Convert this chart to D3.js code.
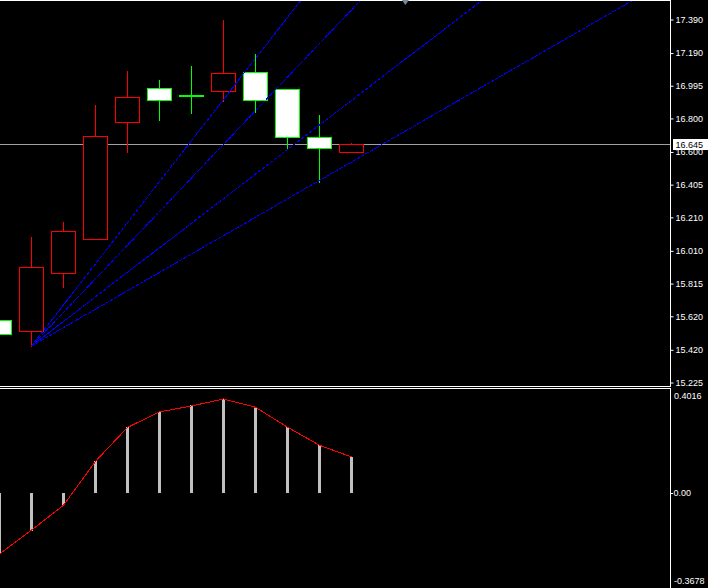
<!DOCTYPE html>
<html>
<head>
<meta charset="utf-8">
<script src="https://cdn.jsdelivr.net/npm/d3@7"></script>
<style>
html,body{margin:0;padding:0;background:#000;overflow:hidden;}
svg{display:block;}
</style>
</head>
<body>
<svg id="chart" width="708" height="588"></svg>
<script>
// ---------- data ----------
const barIndex = [0,1,2,3,4,5,6,7,8,9,10,11];
const opens  = [15.598, 15.532, 15.878, 16.081, 16.779, 16.981, 16.934, 16.964, 17.077, 16.976, 16.689, 16.600];
const highs  = [15.640, 16.093, 16.182, 16.880, 17.083, 17.029, 17.113, 17.387, 17.184, 16.976, 16.820, 16.651];
const lows   = [15.480, 15.443, 15.795, 16.081, 16.600, 16.791, 16.832, 16.904, 16.838, 16.618, 16.421, 16.600];
const closes = [15.517, 15.914, 16.129, 16.695, 16.928, 16.910, 16.934, 17.071, 16.910, 16.689, 16.624, 16.645];

const macdMain   = [-0.234, -0.146, -0.047, 0.123, 0.255, 0.314, 0.338, 0.364, 0.332, 0.255, 0.185, 0.139];
const macdSignal = [-0.236, -0.144, -0.048, 0.122, 0.253, 0.313, 0.336, 0.363, 0.331, 0.254, 0.184, 0.139];

const priceTickLabels = ["17.390","17.190","16.995","16.800","16.600","16.405","16.210","16.010","15.815","15.620","15.420","15.225"];
const macdTickLabels  = ["0.4016","0.00","-0.3678"];
const currentPrice = 16.645;

// Gann fan: origin (bar, price) and slopes in price per bar
const fanOrigin = {bar: 1, price: 15.443};
const fanSlopes = [0.2449, 0.2004, 0.1464, 0.1097];

// ---------- layout ----------
const W = 708, H = 588;
const plotRight = 670;
const mainTop = 0, mainBottom = 386;
const subTop = 388, subBottom = 588;

const svg = d3.select("#chart");
svg.append("rect").attr("width", W).attr("height", H).attr("fill", "#000");

const x = d3.scaleLinear().domain([0, 21]).range([-1, 671]);
const yMain = d3.scaleLinear().domain([15.225, 17.390]).range([382.5, 19.5]);
const ySub = d3.scaleLinear().domain([-0.3678, 0.4016]).range([subBottom, subTop + 1]);

const defs = svg.append("defs");
defs.append("clipPath").attr("id", "clipMain")
  .append("rect").attr("x", 0).attr("y", mainTop).attr("width", plotRight).attr("height", mainBottom - mainTop);
defs.append("clipPath").attr("id", "clipSub")
  .append("rect").attr("x", 0).attr("y", subTop + 1).attr("width", plotRight).attr("height", subBottom - subTop);

const gMain = svg.append("g").attr("clip-path", "url(#clipMain)");
const gSub = svg.append("g").attr("clip-path", "url(#clipSub)");

// current price line
gMain.append("line")
  .attr("x1", 0).attr("x2", plotRight)
  .attr("y1", Math.round(yMain(currentPrice)) + 0.5).attr("y2", Math.round(yMain(currentPrice)) + 0.5)
  .attr("stroke", "#a0a0a8").attr("stroke-width", 1);

// candles
const candles = barIndex.map(i => ({i, o: opens[i], h: highs[i], l: lows[i], c: closes[i]}));
const bullColor = "#ff0000", bearColor = "#00ff00";
const cg = gMain.append("g").attr("shape-rendering", "crispEdges").selectAll("g").data(candles).join("g");
cg.append("line")
  .attr("x1", d => Math.round(x(d.i)) + 0.5).attr("x2", d => Math.round(x(d.i)) + 0.5)
  .attr("y1", d => Math.round(yMain(d.h))).attr("y2", d => Math.round(yMain(d.l)) + 1)
  .attr("stroke", d => d.c > d.o ? bullColor : bearColor).attr("stroke-width", 1);
cg.append("rect")
  .attr("x", d => Math.round(x(d.i)) - 11.5)
  .attr("width", 24)
  .attr("y", d => Math.round(yMain(Math.max(d.o, d.c))) + (d.o === d.c ? -0.5 : 0.5))
  .attr("height", d => d.o === d.c ? 1 : Math.round(yMain(Math.min(d.o, d.c))) - Math.round(yMain(Math.max(d.o, d.c))))
  .attr("fill", d => d.c > d.o ? "#000" : (d.o === d.c ? bearColor : "#fff"))
  .attr("stroke", d => d.c > d.o ? bullColor : bearColor).attr("stroke-width", 1);

// Gann fan lines
const endBar = 21;
gMain.append("g").attr("shape-rendering", "crispEdges").selectAll("line").data(fanSlopes).join("line")
  .attr("x1", x(fanOrigin.bar) + 0.5).attr("y1", yMain(fanOrigin.price))
  .attr("x2", x(endBar) + 0.5).attr("y2", s => yMain(fanOrigin.price + s * (endBar - fanOrigin.bar)))
  .attr("stroke", "#0000ff").attr("stroke-width", 1).attr("stroke-dasharray", "4,1");

// MACD histogram
gSub.append("g").attr("shape-rendering", "crispEdges").selectAll("rect").data(barIndex).join("rect")
  .attr("x", i => Math.round(x(i)) - 1).attr("width", 3)
  .attr("y", i => Math.min(ySub(0), ySub(macdMain[i])))
  .attr("height", i => Math.abs(ySub(macdMain[i]) - ySub(0)))
  .attr("fill", "#c0c0c0");

// MACD signal line
gSub.append("path")
  .datum(barIndex)
  .attr("d", d3.line().x(i => Math.round(x(i)) + 0.5).y(i => ySub(macdSignal[i])))
  .attr("fill", "none").attr("stroke", "#ff0000").attr("stroke-width", 1)
  .attr("shape-rendering", "crispEdges");

// frames
const frame = svg.append("g").attr("stroke", "#fff").attr("stroke-width", 1).attr("shape-rendering", "crispEdges");
frame.append("line").attr("x1", 0).attr("x2", plotRight + 1).attr("y1", 0.5).attr("y2", 0.5);
frame.append("line").attr("x1", 0).attr("x2", plotRight + 1).attr("y1", mainBottom + 0.5).attr("y2", mainBottom + 0.5);
frame.append("line").attr("x1", 0).attr("x2", plotRight + 1).attr("y1", subTop + 0.5).attr("y2", subTop + 0.5);
frame.append("line").attr("x1", plotRight + 0.5).attr("x2", plotRight + 0.5).attr("y1", 0).attr("y2", mainBottom + 1);
frame.append("line").attr("x1", plotRight + 0.5).attr("x2", plotRight + 0.5).attr("y1", subTop).attr("y2", subBottom);

// price axis
const priceTickVals = priceTickLabels.map(Number);
const axisMain = d3.axisRight(yMain)
  .tickValues(priceTickVals).tickSize(3).tickPadding(2)
  .tickFormat((d, i) => priceTickLabels[i]);
const gAxis = svg.append("g").attr("transform", `translate(${plotRight + 0.5},0)`).call(axisMain);
gAxis.select(".domain").remove();
gAxis.selectAll("line").attr("stroke", "#fff");
gAxis.selectAll("text").attr("fill", "#fff")
  .style("font-family", "'Liberation Sans', Arial, sans-serif").style("font-size", "9px");

// current price label
const cpY = Math.round(yMain(currentPrice)) + 0.5;
svg.append("rect").attr("x", 673).attr("y", cpY - 5.5).attr("width", 35).attr("height", 11).attr("fill", "#fff");
svg.append("text").attr("x", 675.5).attr("y", cpY).attr("dy", "0.34em")
  .attr("fill", "#000").style("font-family", "'Liberation Sans', Arial, sans-serif").style("font-size", "9px")
  .text(currentPrice.toFixed(3));

// MACD axis labels
const subLabelY = [subTop + 8, ySub(0), subBottom - 7];
svg.append("line").attr("x1", plotRight + 1).attr("x2", plotRight + 3)
  .attr("y1", Math.round(ySub(0)) + 0.5).attr("y2", Math.round(ySub(0)) + 0.5).attr("stroke", "#fff");
svg.append("g").selectAll("text").data(macdTickLabels).join("text")
  .attr("x", (d, i) => i === 1 ? 673.5 : 674)
  .attr("y", (d, i) => subLabelY[i]).attr("dy", "0.34em")
  .attr("fill", "#fff").style("font-family", "'Liberation Sans', Arial, sans-serif").style("font-size", "9px")
  .text(d => d);

// chart shift marker
const shiftX = x(12.7);
svg.append("path")
  .attr("d", `M${shiftX - 3.5},0 L${shiftX + 3.5},0 L${shiftX},5 Z`)
  .attr("fill", "#778899");
</script>
</body>
</html>
